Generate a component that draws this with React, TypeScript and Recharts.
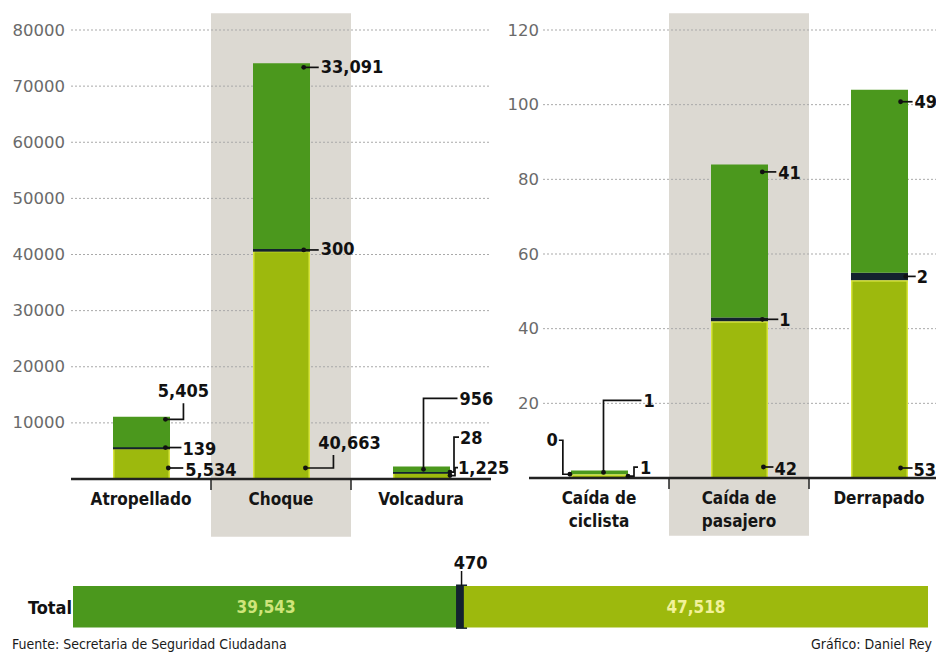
import React from 'react';
import {
  BarChart, Bar, XAxis, YAxis, CartesianGrid, ReferenceArea, LabelList,
} from 'recharts';

// ---------- data ----------
const categoriesLeft = ['Atropellado', 'Choque', 'Volcadura'];
const greenLeft = [5405, 33091, 956];
const darkLeft = [139, 300, 28];
const lightLeft = [5534, 40663, 1225];
const ticksLeft = [10000, 20000, 30000, 40000, 50000, 60000, 70000, 80000];
const tickLinesLeft = [['Atropellado'], ['Choque'], ['Volcadura']];

const categoriesRight = ['Caída de ciclista', 'Caída de pasajero', 'Derrapado'];
const greenRight = [1, 41, 49];
const darkRight = [0, 1, 2];
const lightRight = [1, 42, 53];
const ticksRight = [20, 40, 60, 80, 100, 120];
const tickLinesRight = [['Caída de', 'ciclista'], ['Caída de', 'pasajero'], ['Derrapado']];

const totalDark = 39543;
const totalSep = 470;
const totalLight = 47518;

const sourceText = 'Fuente: Secretaria de Seguridad Ciudadana';
const creditText = 'Gráfico: Daniel Rey';

// ---------- styles ----------
const GREEN = '#4b981d';
const LIGHT = '#9db90d';
const DARK = '#13222f';
const BAND = '#dcd9d2';
const LABEL_FONT = '"DejaVu Sans Condensed", Roboto, "Liberation Sans", sans-serif';
const TICK_FONT = '"DejaVu Sans", Roboto, sans-serif';

const leftRows = categoriesLeft.map((name, i) => ({
  name, light: lightLeft[i], dark: darkLeft[i], green: greenLeft[i],
}));
const rightRows = categoriesRight.map((name, i) => ({
  name, light: lightRight[i], dark: darkRight[i], green: greenRight[i],
}));
const totalRows = [{ name: 'Total', dark: totalDark, sep: totalSep, light: totalLight }];

const fmt = (v: number) => v.toLocaleString('en-US');

type Leader = {
  fx: number;
  mode: 'top' | 'mid' | 'bot';
  off: number;
  path: number[][];
  t: [number, number];
  anchor: 'start' | 'middle' | 'end';
};

// leader-line layouts (styling only)
const leadLeftGreen: Leader[] = [
  { fx: 0.92, mode: 'top', off: 2.5, path: [[18, 0], [18, -16]], t: [18, -29], anchor: 'middle' },
  { fx: 0.89, mode: 'top', off: 4, path: [[15, 0]], t: [17, -1], anchor: 'start' },
  { fx: 0.535, mode: 'mid', off: 0, path: [[0, -71], [34, -71]], t: [36, -71], anchor: 'start' },
];
const leadLeftDark: Leader[] = [
  { fx: 0.92, mode: 'mid', off: 0, path: [[16, 0]], t: [17, 1], anchor: 'start' },
  { fx: 0.89, mode: 'mid', off: 0, path: [[15, 0]], t: [17, -1], anchor: 'start' },
  { fx: 1.0, mode: 'mid', off: 0, path: [[4, 0], [4, -35], [9, -35]], t: [10, -35], anchor: 'start' },
];
const leadLeftLight: Leader[] = [
  { fx: 0.97, mode: 'bot', off: 11, path: [[15, 0]], t: [17, 1], anchor: 'start' },
  { fx: 0.92, mode: 'bot', off: 11, path: [[28, 0], [28, -13]], t: [44, -26], anchor: 'middle' },
  { fx: 1.0, mode: 'mid', off: 0, path: [[5, 0], [5, -8], [8, -8]], t: [8, -8], anchor: 'start' },
];
const leadRightGreen: Leader[] = [
  { fx: 0.57, mode: 'mid', off: 0, path: [[0, -72], [38, -72]], t: [40, -72], anchor: 'start' },
  { fx: 0.9, mode: 'top', off: 7.5, path: [[14, 0]], t: [16, 1], anchor: 'start' },
  { fx: 0.87, mode: 'top', off: 12, path: [[12, 0]], t: [14, 0], anchor: 'start' },
];
const leadRightDark: Leader[] = [
  { fx: -0.02, mode: 'mid', off: 0, path: [[-7, 0], [-7, -34], [-11, -34]], t: [-12, -35], anchor: 'end' },
  { fx: 0.9, mode: 'mid', off: 0, path: [[16, 0]], t: [17, 0], anchor: 'start' },
  { fx: 0.96, mode: 'mid', off: 0, path: [[10, 0]], t: [11, 0], anchor: 'start' },
];
const leadRightLight: Leader[] = [
  { fx: 1.0, mode: 'mid', off: 0, path: [[6, 0], [6, -9], [10, -9]], t: [12, -9], anchor: 'start' },
  { fx: 0.92, mode: 'bot', off: 11, path: [[10, 0]], t: [11, 1], anchor: 'start' },
  { fx: 0.87, mode: 'bot', off: 10, path: [[12, 0]], t: [13, 1], anchor: 'start' },
];

function makeLeader(values: number[], layout: Leader[]) {
  return (props: any) => {
    const vb = props.viewBox ?? props;
    const i = props.index;
    const L = layout[i];
    if (!L || vb == null || vb.x == null) return null;
    const x = Number(vb.x), y = Number(vb.y), w = Number(vb.width), h = Number(vb.height);
    const dx = x + w * L.fx;
    const dy = L.mode === 'top' ? y + L.off : L.mode === 'bot' ? y + h - L.off : y + h / 2;
    const pts = [[dx, dy], ...L.path.map(([a, b]) => [dx + a, dy + b])];
    return (
      <g>
        <polyline points={pts.map((p) => p.join(',')).join(' ')} fill="none" stroke="#111" strokeWidth={1.7} />
        <circle cx={dx} cy={dy} r={2.4} fill="#111" />
        <text x={dx + L.t[0]} y={dy + L.t[1]} textAnchor={L.anchor} dominantBaseline="central"
          fontFamily={LABEL_FONT} fontWeight="bold" fontSize={18} fill="#111">
          {fmt(values[i])}
        </text>
      </g>
    );
  };
}

const darkShape = (props: any) => {
  const { x, y, width, height } = props;
  if (!(height > 0.01)) return <g />;
  const H = Math.max(height, 3.5);
  return <rect x={x} y={y + height / 2 - H / 2} width={width} height={H} fill={DARK} />;
};

const lightShape = (props: any) => {
  const { x, y, width, height } = props;
  if (!(height > 0)) return <g />;
  return <rect x={x + 0.75} y={y + 0.75} width={width - 1.5} height={Math.max(height - 0.75, 0)}
    fill={LIGHT} stroke="#d7e43c" strokeWidth={1.5} />;
};

function makeXTick(lines: string[][], halfBand: number, count: number) {
  return (p: any) => {
    const i = p.index ?? 0;
    const ls = lines[i] ?? [String(p.payload?.value ?? '')];
    return (
      <g>
        {i < count - 1 && (
          <line x1={p.x + halfBand} x2={p.x + halfBand} y1={p.y} y2={p.y + 11} stroke="#222" strokeWidth={1.5} />
        )}
        <text x={p.x} y={p.y + 26} textAnchor="middle" fontFamily={LABEL_FONT} fontWeight="bold" fontSize={17} fill="#151515">
          {ls.map((l, k) => (
            <tspan key={k} x={p.x} dy={k === 0 ? 0 : 23}>{l}</tspan>
          ))}
        </text>
      </g>
    );
  };
}

function makeYTick(dx: number) {
  return (p: any) => (
    <text x={p.x + dx} y={p.y} textAnchor="end" dominantBaseline="central"
      fontFamily={TICK_FONT} fontSize={16.5} fill="#6a6a6a">
      {p.payload?.value}
    </text>
  );
}

function LeftChart() {
  return (
    <BarChart width={500} height={540} data={leftRows} barSize={57}
      margin={{ top: 30, right: 9, bottom: 31, left: 0 }}>
      <ReferenceArea x1="Choque" x2="Choque" y1={-10300} y2={83000} ifOverflow="visible"
        fill={BAND} fillOpacity={1} stroke="none" zIndex={-150} />
      <CartesianGrid vertical={false} stroke="#a9a9a9" strokeDasharray="2 2" />
      <XAxis dataKey="name" height={30} tickLine={false} tickSize={0} tickMargin={0}
        axisLine={{ stroke: '#222', strokeWidth: 2.5 }} interval={0}
        tick={makeXTick(tickLinesLeft, 70, categoriesLeft.length)} />
      <YAxis width={71} domain={[0, 80000]} ticks={ticksLeft} axisLine={false} tickLine={false}
        tickSize={0} tickMargin={0} tick={makeYTick(-6)} />
      <Bar dataKey="light" stackId="a" fill={LIGHT} shape={lightShape} isAnimationActive={false}>
        <LabelList content={makeLeader(lightLeft, leadLeftLight)} />
      </Bar>
      <Bar dataKey="dark" stackId="a" fill={DARK} shape={darkShape} isAnimationActive={false}>
        <LabelList content={makeLeader(darkLeft, leadLeftDark)} />
      </Bar>
      <Bar dataKey="green" stackId="a" fill={GREEN} isAnimationActive={false}>
        <LabelList content={makeLeader(greenLeft, leadLeftGreen)} />
      </Bar>
    </BarChart>
  );
}

function RightChart() {
  return (
    <BarChart width={449} height={540} data={rightRows} barSize={57}
      margin={{ top: 30, right: 0, bottom: 32, left: 0 }}>
      <ReferenceArea x1="Caída de pasajero" x2="Caída de pasajero" y1={-15.5} y2={124.5} ifOverflow="visible"
        fill={BAND} fillOpacity={1} stroke="none" zIndex={-150} />
      <CartesianGrid vertical={false} stroke="#a9a9a9" strokeDasharray="2 2" x={43} width={406} />
      <XAxis dataKey="name" height={30} tickLine={false} tickSize={0} tickMargin={0}
        axisLine={{ stroke: '#222', strokeWidth: 2.5 }} interval={0}
        tick={makeXTick(tickLinesRight, 70, categoriesRight.length)} />
      <YAxis width={29} domain={[0, 120]} ticks={ticksRight} axisLine={false} tickLine={false}
        tickSize={0} tickMargin={0} tick={makeYTick(10)} />
      <Bar dataKey="light" stackId="a" fill={LIGHT} shape={lightShape} isAnimationActive={false}>
        <LabelList content={makeLeader(lightRight, leadRightLight)} />
      </Bar>
      <Bar dataKey="dark" stackId="a" fill={DARK} shape={darkShape} isAnimationActive={false}>
        <LabelList content={makeLeader(darkRight, leadRightDark)} />
      </Bar>
      <Bar dataKey="green" stackId="a" fill={GREEN} isAnimationActive={false}>
        <LabelList content={makeLeader(greenRight, leadRightGreen)} />
      </Bar>
    </BarChart>
  );
}

const segLabel = (value: number, color: string) => (props: any) => {
  const vb = props.viewBox ?? props;
  if (!vb || vb.x == null) return null;
  return (
    <text x={vb.x + vb.width / 2} y={vb.y + vb.height / 2} textAnchor="middle" dominantBaseline="central"
      fontFamily={LABEL_FONT} fontWeight="bold" fontSize={17} fill={color}>
      {fmt(value)}
    </text>
  );
};

const sepShape = (props: any) => {
  const { x, y, width, height } = props;
  const W = Math.max(width, 11);
  return <rect x={x + width / 2 - W / 2} y={y - 1.5} width={W} height={height + 3} fill={DARK} />;
};

const sepLabel = (props: any) => {
  const vb = props.viewBox ?? props;
  if (!vb || vb.x == null) return null;
  const cx = vb.x + vb.width / 2;
  return (
    <g>
      <line x1={cx} x2={cx} y1={vb.y} y2={vb.y - 15} stroke="#111" strokeWidth={1.5} />
      <text x={cx + 9} y={vb.y - 17} textAnchor="middle" fontFamily={LABEL_FONT} fontWeight="bold" fontSize={18} fill="#111">
        {fmt(totalSep)}
      </text>
    </g>
  );
};

function TotalChart() {
  const sum = totalDark + totalSep + totalLight;
  return (
    <BarChart width={936} height={115} data={totalRows} layout="vertical" barSize={46}
      margin={{ top: 44, right: 8, bottom: 25, left: 0 }}>
      <XAxis type="number" hide domain={[0, sum]} />
      <YAxis type="category" dataKey="name" width={73} axisLine={false} tickLine={false} tickSize={0} tickMargin={0}
        tick={(p: any) => (
          <text x={p.x - 1} y={p.y} textAnchor="end" dominantBaseline="central"
            fontFamily={LABEL_FONT} fontWeight="bold" fontSize={18} fill="#111">{p.payload?.value}</text>
        )} />
      <Bar dataKey="dark" stackId="t" fill={GREEN} isAnimationActive={false}>
        <LabelList content={segLabel(totalDark, '#cfe57a')} />
      </Bar>
      <Bar dataKey="sep" stackId="t" fill={DARK} shape={sepShape} isAnimationActive={false}>
        <LabelList content={sepLabel} />
      </Bar>
      <Bar dataKey="light" stackId="t" fill={LIGHT} isAnimationActive={false}>
        <LabelList content={segLabel(totalLight, '#f2f29a')} />
      </Bar>
    </BarChart>
  );
}

export default function App() {
  return (
    <div style={{ position: 'absolute', left: 0, top: 0, width: 936, height: 655, overflow: 'hidden', background: '#fff' }}>
      <style>{'.left-chart svg { overflow: visible; } .left-chart .recharts-wrapper { overflow: visible; }'}</style>
      <div style={{ position: 'absolute', left: 500, top: 0, width: 436, height: 540, overflow: 'hidden' }}>
        <RightChart />
      </div>
      <div className="left-chart" style={{ position: 'absolute', left: 0, top: 0, width: 500, height: 540 }}>
        <LeftChart />
      </div>
      <div style={{ position: 'absolute', left: 0, top: 540, width: 936, height: 115 }}>
        <TotalChart />
      </div>
      <div style={{ position: 'absolute', left: 12, top: 636, fontFamily: LABEL_FONT, fontSize: 14, lineHeight: '16px', color: '#1a1a1a' }}>
        {sourceText}
      </div>
      <div style={{ position: 'absolute', right: 4, top: 636, fontFamily: LABEL_FONT, fontSize: 14, lineHeight: '16px', color: '#1a1a1a' }}>
        {creditText}
      </div>
    </div>
  );
}
